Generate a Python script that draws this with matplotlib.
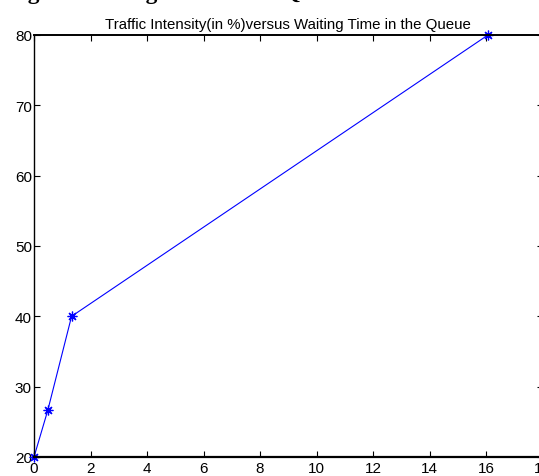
"""Traffic intensity vs waiting time in the queue (MATLAB-style line plot)."""

import matplotlib

matplotlib.use("Agg")
import matplotlib.pyplot as plt

# waiting time in the queue (x) and traffic intensity in % (y)
waiting_time = [0.0, 0.49, 1.33, 16.07]
traffic_intensity = [20.0, 26.67, 40.0, 80.0]

x_ticks = [0, 2, 4, 6, 8, 10, 12, 14, 16, 18]
y_ticks = [20, 30, 40, 50, 60, 70, 80]

title = "Traffic Intensity(in %)versus Waiting Time in the Queue"
caption = "Figure Waiting Time in the Queue versus Traffic Intensity"

plt.rcParams["font.family"] = ["Liberation Sans", "DejaVu Sans"]

fig = plt.figure(figsize=(5.39, 4.77), dpi=100)
ax = fig.add_axes([34 / 539, 1 - 458 / 477, (542.5 - 34) / 539, (458 - 36) / 477])

ax.plot(
    waiting_time,
    traffic_intensity,
    color="blue",
    linewidth=0.8,
    marker=(8, 2, 0),
    markersize=7,
    markeredgewidth=0.9,
    clip_on=False,
)

ax.set_xlim(0, 18)
ax.set_ylim(20, 80)
ax.set_xticks(x_ticks)
ax.set_yticks(y_ticks)
ax.tick_params(direction="in", top=True, right=True, length=4, width=0.8,
               labelsize=11, colors="black")
ax.tick_params(axis="y", pad=1.5)
ax.tick_params(axis="x", pad=3)
ax.spines["left"].set_linewidth(1.0)
ax.spines["right"].set_linewidth(1.0)
ax.spines["top"].set_linewidth(1.4)
ax.spines["bottom"].set_linewidth(1.6)

ax.set_title(title, fontsize=10.8, pad=5)

# bold document caption, mostly cut off at the top of the picture
fig.text(7 / 539, 1 + 1 / 477, caption, fontsize=16.8, fontweight="bold",
         family="Liberation Serif", va="baseline", ha="left")

fig.savefig("out.png", dpi=100)
plt.close(fig)
